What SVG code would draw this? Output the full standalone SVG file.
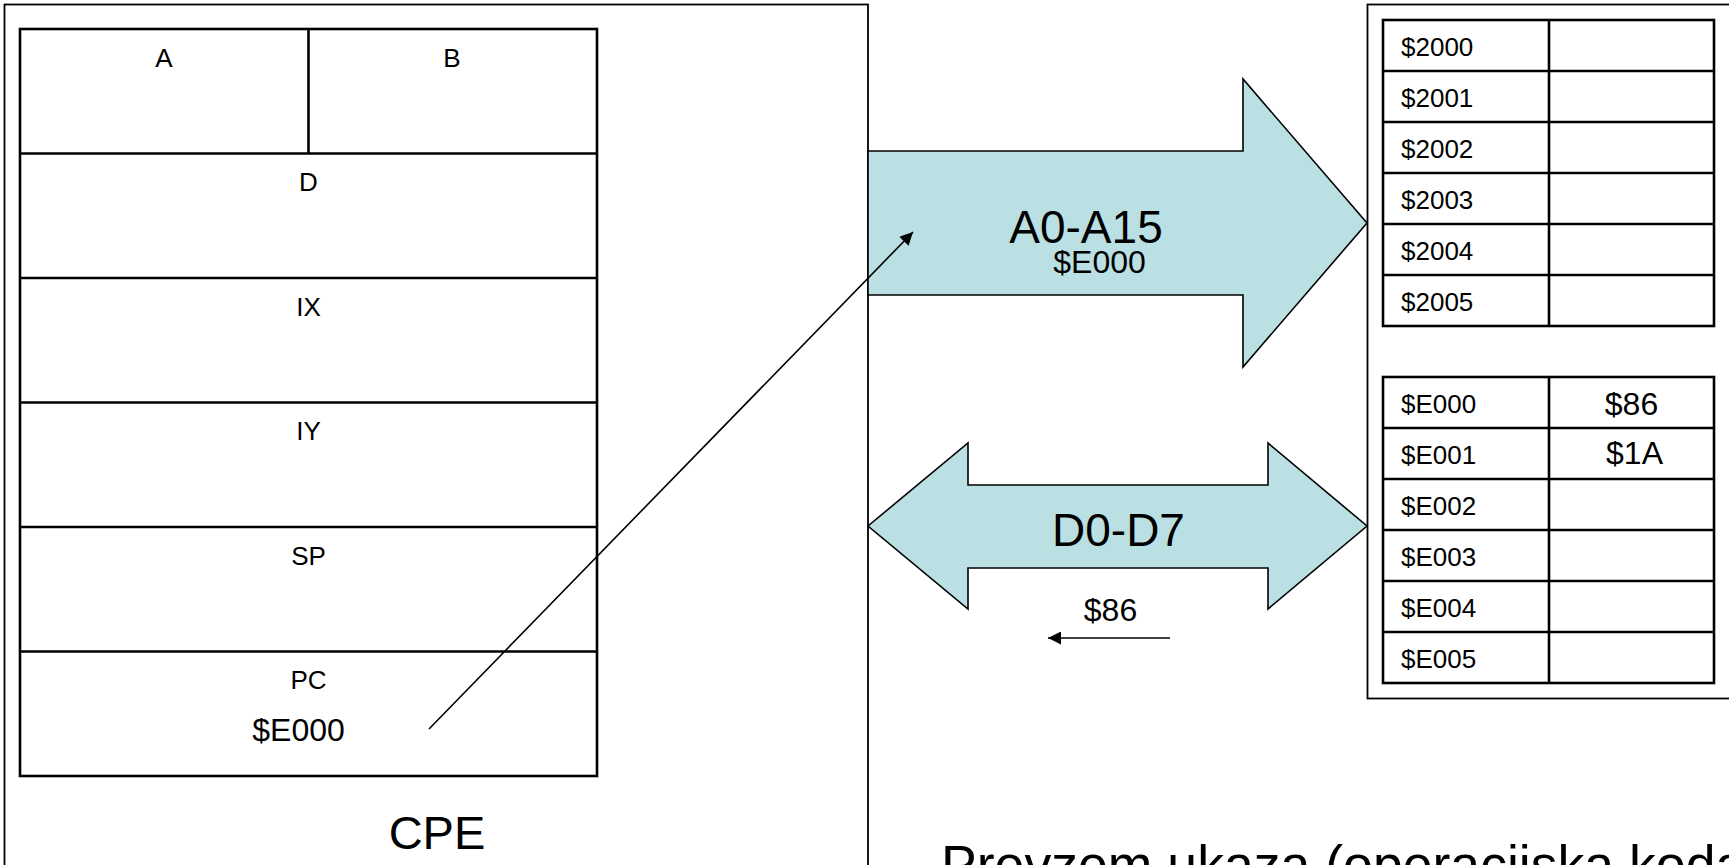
<svg xmlns="http://www.w3.org/2000/svg" width="1729" height="865" viewBox="0 0 1729 865">
<defs>
<style>
text{font-family:"Liberation Sans",Arial,sans-serif;fill:#000}
.box{fill:#fff;stroke:#000;stroke-width:1.8}
.cell{fill:none;stroke:#000;stroke-width:2.6}
.bus{fill:#bae0e3;stroke:#000;stroke-width:1.6;stroke-linejoin:miter}
.lbl{font-size:26px;text-anchor:middle}
.addr{font-size:26px}
.val{font-size:32px;text-anchor:middle}
.big{font-size:46px;text-anchor:middle}
.conn{stroke:#000;stroke-width:1.6;fill:none}
</style>
<marker id="ah" viewBox="0 0 10 10" refX="10" refY="5" markerWidth="10" markerHeight="10" markerUnits="userSpaceOnUse" orient="auto">
<path d="M0,0 L10,5 L0,10 z" fill="#000"/>
</marker>
<marker id="ah2" viewBox="0 0 10 10" refX="10" refY="5" markerWidth="17" markerHeight="13" markerUnits="userSpaceOnUse" orient="auto">
<path d="M0,0 L10,5 L0,10 z" fill="#000"/>
</marker>
</defs>
<rect width="1729" height="865" fill="#fff"/>

<g id="cpe">
<rect class="box" x="4.5" y="4.5" width="863.5" height="900"/>
<text x="437" y="849" font-size="47" text-anchor="middle">CPE</text>
</g>

<g id="registers">
<rect class="cell" x="20" y="29" width="577" height="747"/>
<line class="cell" x1="308.5" y1="29" x2="308.5" y2="153.5"/>
<line class="cell" x1="20" y1="153.5" x2="597" y2="153.5"/>
<line class="cell" x1="20" y1="278" x2="597" y2="278"/>
<line class="cell" x1="20" y1="402.5" x2="597" y2="402.5"/>
<line class="cell" x1="20" y1="527" x2="597" y2="527"/>
<line class="cell" x1="20" y1="651.5" x2="597" y2="651.5"/>
</g>
<g id="reg-a"><text class="lbl" x="164" y="66.5">A</text></g>
<g id="reg-b"><text class="lbl" x="452" y="66.5">B</text></g>
<g id="reg-d"><text class="lbl" x="308.5" y="191">D</text></g>
<g id="reg-ix"><text class="lbl" x="308.5" y="315.5">IX</text></g>
<g id="reg-iy"><text class="lbl" x="308.5" y="440">IY</text></g>
<g id="reg-sp"><text class="lbl" x="308.5" y="564.5">SP</text></g>
<g id="reg-pc"><text class="lbl" x="308.5" y="689">PC</text>
<text class="val" x="298.5" y="741">$E000</text></g>

<g id="address-bus">
<polygon class="bus" points="868,151 1243,151 1243,79 1367,223 1243,367 1243,295 868,295"/>
<text class="big" x="1086" y="242.5">A0-A15</text>
<text class="val" x="1099.5" y="273">$E000</text>
</g>

<g id="data-bus">
<polygon class="bus" points="868,526 968,443 968,485 1268,485 1268,443 1367,526 1268,609 1268,568 968,568 968,609"/>
<text class="big" x="1118.5" y="545.5">D0-D7</text>
<text class="val" x="1110.5" y="620.5">$86</text>
</g>

<g id="memory">
<rect class="box" x="1367.5" y="4.5" width="400" height="694"/>
</g>
<g id="mem-2000">
<rect class="cell" x="1383" y="20" width="331" height="306"/>
<line class="cell" x1="1549" y1="20" x2="1549" y2="326"/>
<line class="cell" x1="1383" y1="71" x2="1714" y2="71"/>
<line class="cell" x1="1383" y1="122" x2="1714" y2="122"/>
<line class="cell" x1="1383" y1="173" x2="1714" y2="173"/>
<line class="cell" x1="1383" y1="224" x2="1714" y2="224"/>
<line class="cell" x1="1383" y1="275" x2="1714" y2="275"/>
<text class="addr" x="1401" y="56">$2000</text>
<text class="addr" x="1401" y="107">$2001</text>
<text class="addr" x="1401" y="158">$2002</text>
<text class="addr" x="1401" y="209">$2003</text>
<text class="addr" x="1401" y="260">$2004</text>
<text class="addr" x="1401" y="311">$2005</text>
</g>
<g id="mem-e000">
<rect class="cell" x="1383" y="377" width="331" height="306"/>
<line class="cell" x1="1549" y1="377" x2="1549" y2="683"/>
<line class="cell" x1="1383" y1="428" x2="1714" y2="428"/>
<line class="cell" x1="1383" y1="479" x2="1714" y2="479"/>
<line class="cell" x1="1383" y1="530" x2="1714" y2="530"/>
<line class="cell" x1="1383" y1="581" x2="1714" y2="581"/>
<line class="cell" x1="1383" y1="632" x2="1714" y2="632"/>
<text class="addr" x="1401" y="413">$E000</text>
<text class="addr" x="1401" y="464">$E001</text>
<text class="addr" x="1401" y="515">$E002</text>
<text class="addr" x="1401" y="566">$E003</text>
<text class="addr" x="1401" y="617">$E004</text>
<text class="addr" x="1401" y="668">$E005</text>
<text class="val" x="1631.5" y="415">$86</text>
<text class="val" x="1634.5" y="464">$1A</text>
</g>

<g id="connectors">
<line class="conn" x1="429" y1="729" x2="913" y2="232" marker-end="url(#ah2)"/>
<line class="conn" x1="1170" y1="638" x2="1048" y2="638" marker-end="url(#ah2)"/>
</g>

<g id="caption">
<text x="941" y="883" font-size="53.6">Prevzem ukaza (operacijska koda</text>
</g>
</svg>
